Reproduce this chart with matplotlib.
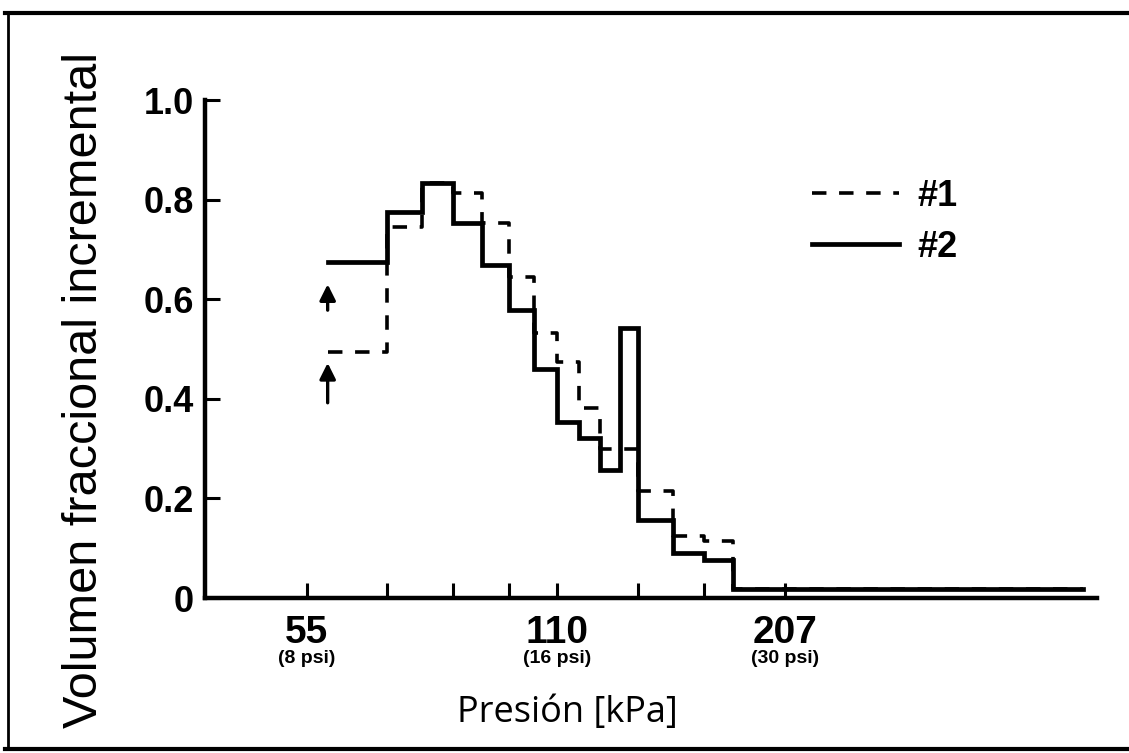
import matplotlib.pyplot as plt
from matplotlib.lines import Line2D

# bin edges in kPa (8.5, 10, 11, ... 26, 68 psi)
edges = [58.5, 68.9, 75.8, 82.7, 89.6, 96.5, 103.4, 110.3, 117.2,
         124.1, 131.0, 137.9, 151.7, 165.5, 179.3, 470.0]
sample_1 = [0.494, 0.745, 0.833, 0.813, 0.753, 0.645, 0.532, 0.474,
            0.381, 0.300, 0.300, 0.215, 0.125, 0.115, 0.018]
sample_2 = [0.675, 0.775, 0.833, 0.753, 0.669, 0.578, 0.460, 0.353,
            0.321, 0.257, 0.542, 0.157, 0.090, 0.076, 0.018]
series_labels = ["#1", "#2"]

# arrows on the first bin (tail, tip)
arrow_x = 58.5
arrows = [(0.392, 0.472), (0.578, 0.630)]

x_ticks = [55.2, 68.9, 82.7, 96.5, 110.3, 137.9, 165.5, 206.8]
x_main_labels = {55.2: ("55", "(8 psi)"), 110.3: ("110", "(16 psi)"),
                 206.8: ("207", "(30 psi)")}
y_ticks = [0, 0.2, 0.4, 0.6, 0.8, 1.0]
y_tick_labels = ["0", "0.2", "0.4", "0.6", "0.8", "1.0"]

W, H = 1129, 753
fig = plt.figure(figsize=(W / 100, H / 100), dpi=100)
ax = fig.add_axes([205 / W, 1 - 598 / H, (1097 - 205) / W, (598 - 100) / H])

ax.step(edges, sample_1 + [sample_1[-1]], where="post", color="black",
        lw=2.6, dashes=(4, 3.5), solid_joinstyle="miter", label=series_labels[0])
ax.step(edges, sample_2 + [sample_2[-1]], where="post", color="black",
        lw=3.4, solid_joinstyle="miter", label=series_labels[1])

for tail, tip in arrows:
    ax.annotate("", xy=(arrow_x, tip), xytext=(arrow_x, tail),
                arrowprops=dict(arrowstyle="-|>", color="black", lw=2.4,
                                mutation_scale=24, shrinkA=0, shrinkB=0))

ax.set_xscale("log")
ax.set_xlim(41.7, 489)
ax.set_ylim(0, 1.0)

ax.set_xticks(x_ticks)
ax.set_xticklabels([])
ax.xaxis.set_minor_locator(plt.NullLocator())
ax.set_yticks(y_ticks)
ax.set_yticklabels(y_tick_labels, fontfamily="Liberation Sans",
                   fontweight="bold", fontsize=26)
ax.tick_params(axis="both", direction="in", length=11, width=2.2, pad=8)

for s in ["top", "right"]:
    ax.spines[s].set_visible(False)
for s in ["left", "bottom"]:
    ax.spines[s].set_linewidth(3.2)

trans = ax.get_xaxis_transform()
for xv, (big, small) in x_main_labels.items():
    ax.text(xv, -0.035, big, transform=trans, ha="center", va="top",
            fontfamily="Liberation Sans", fontweight="bold", fontsize=28)
    ax.text(xv, -0.105, small, transform=trans, ha="center", va="top",
            fontfamily="Liberation Sans", fontweight="bold", fontsize=14)

ax.legend(frameon=False, loc="upper left", bbox_to_anchor=(0.681, 0.842),
          handlelength=2.4, handletextpad=0.5, labelspacing=0.45,
          borderpad=0, borderaxespad=0,
          prop=dict(family="Liberation Sans", weight="bold", size=26))

fig.text(85 / W, 1 - 390 / H, "Volumen fraccional incremental", rotation=90,
         ha="center", va="center", fontfamily="Liberation Sans", fontsize=35)
fig.text(567 / W, 1 - 713 / H, "Presión [kPa]", ha="center", va="center",
         fontfamily="Open Sans", fontsize=26)

# scanned page frame
fig.add_artist(Line2D([5 / W, 1], [1 - 13 / H, 1 - 13 / H], color="black", lw=3))
fig.add_artist(Line2D([8 / W, 8 / W], [1 - 13 / H, 1 - 749 / H], color="black", lw=2))
fig.add_artist(Line2D([5 / W, 1], [1 - 749 / H, 1 - 749 / H], color="black", lw=3))

fig.savefig("out.png", dpi=100)
